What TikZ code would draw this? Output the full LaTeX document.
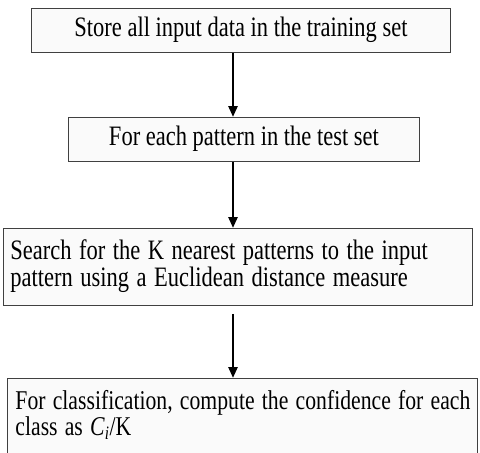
\documentclass[tikz,border=0pt]{standalone}
\usepackage{fontspec}
\setmainfont{Liberation Serif}
\usepackage{graphicx}
\usetikzlibrary{arrows.meta}
\definecolor{boxLine}{HTML}{404040}

% text set a little taller than wide
\newcommand{\tallrows}[1]{\scalebox{1}[1.25]{\begin{tabular}{@{}l@{}}#1\end{tabular}}}

\begin{document}
\begin{tikzpicture}[x=1pt, y=-1pt,
  stepbox/.style={draw=boxLine, line width=0.9pt, fill=black!2, anchor=north west,
    inner sep=0pt, font=\fontsize{22.5}{20}\selectfont},
  flow/.style={line width=2.5pt, -{Triangle[width=9pt,length=11pt]}}]
  \useasboundingbox (0,0) rectangle (480,453);
  % four steps, top to bottom
  \node[stepbox, minimum width=419pt, minimum height=44pt] (store) at (31,8)
    {\tallrows{Store all input data in the training set}};
  \node[stepbox, minimum width=351pt, minimum height=44pt] (each) at (68,117)
    {\tallrows{For each pattern in the test set}};
  \node[stepbox, text width=455pt, inner xsep=7pt, align=left, minimum height=77pt] (search) at (3,228)
    {\tallrows{Search for the K nearest patterns to the input\\pattern using a Euclidean distance measure}};
  \node[stepbox, text width=454pt, inner xsep=8pt, align=left, minimum height=76pt,
    font=\fontsize{21.7}{19.3}\selectfont] (classify) at (7,378)
    {\tallrows{For classification, compute the confidence for each\\class as \textit{C}\textsubscript{\textit{i}}/K}};
  % arrows run down one line, left of centre
  \coordinate (ax) at (233,0);
  \draw[flow] (store.south -| ax) -- (each.north -| ax);
  \draw[flow] (each.south -| ax) -- (search.north -| ax);
  \draw[flow] ([yshift=-8pt]search.south -| ax) -- (classify.north -| ax);
\end{tikzpicture}
\end{document}
